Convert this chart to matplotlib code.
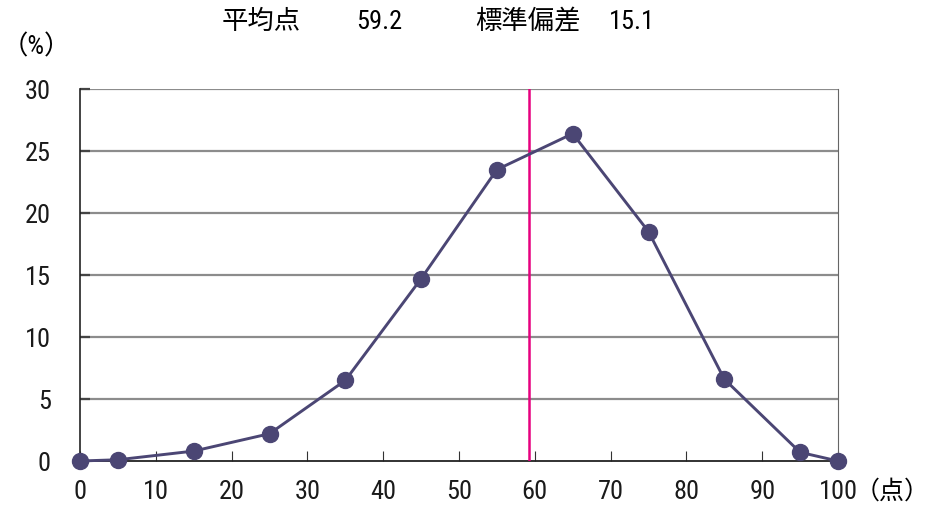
import numpy as np
import matplotlib
matplotlib.use("Agg")
import matplotlib.pyplot as plt
from matplotlib import rcParams as rcp

rcp['font.family'] = ['Roboto Condensed', 'Noto Sans CJK JP', 'DejaVu Sans']

# score distribution (percent of examinees per score band)
scores = [0, 5, 15, 25, 35, 45, 55, 65, 75, 85, 95, 100]
percent = [0.0, 0.1, 0.8, 2.2, 6.5, 14.7, 23.5, 26.4, 18.5, 6.6, 0.7, 0.0]
mean_score = 59.2
std_score = 15.1
xticks = list(range(0, 101, 10))
yticks = list(range(0, 31, 5))

line_col = '#4b4674'
grid_col = '#8c8c8c'

fig = plt.figure(figsize=(9.33, 5.11), dpi=100)
ax = fig.add_axes([80/933, 1-461/511, 758/933, 372/511])

for y in yticks[1:]:
    ax.axhline(y, color=grid_col, lw=1.6, zorder=1)
ax.plot(scores, percent, color=line_col, lw=2.1, marker='o', ms=11.5,
        clip_on=False, zorder=4)
ax.axvline(mean_score, color='#e6007e', lw=1.8, zorder=3)

ax.set_xlim(0, 100)
ax.set_ylim(0, 30)
ax.set_xticks(xticks)
ax.set_yticks(yticks)
ax.tick_params(axis='x', direction='in', length=7, width=0.8, color='#333333',
               labelsize=19, pad=14, labelcolor='#1a1a1a')
ax.tick_params(axis='y', direction='in', length=7, width=1.6, color='#444444',
               labelsize=19, pad=21, labelcolor='#1a1a1a')
ax.spines['top'].set_visible(False)
ax.spines['left'].set_color('#222222')
ax.spines['left'].set_linewidth(1.2)
ax.spines['bottom'].set_color('#222222')
ax.spines['bottom'].set_linewidth(1.3)
ax.spines['right'].set_color('#666666')
ax.spines['right'].set_linewidth(0.8)

ty = 1 - 22/511
fig.text(222/933, ty, '平均点', fontsize=19, va='center', ha='left')
fig.text(356/933, ty, f'{mean_score}', fontsize=19, va='center', ha='left')
fig.text(475/933, ty, '標準偏差', fontsize=19, va='center', ha='left')
fig.text(609/933, ty, f'{std_score}', fontsize=19, va='center', ha='left')
fig.text(2/933, 1-47/511, '（%）', fontsize=19, va='center', ha='left')
fig.text(930/933, 1-492/511, '（点）', fontsize=18, va='center', ha='right')

fig.savefig('out.png', dpi=100)
